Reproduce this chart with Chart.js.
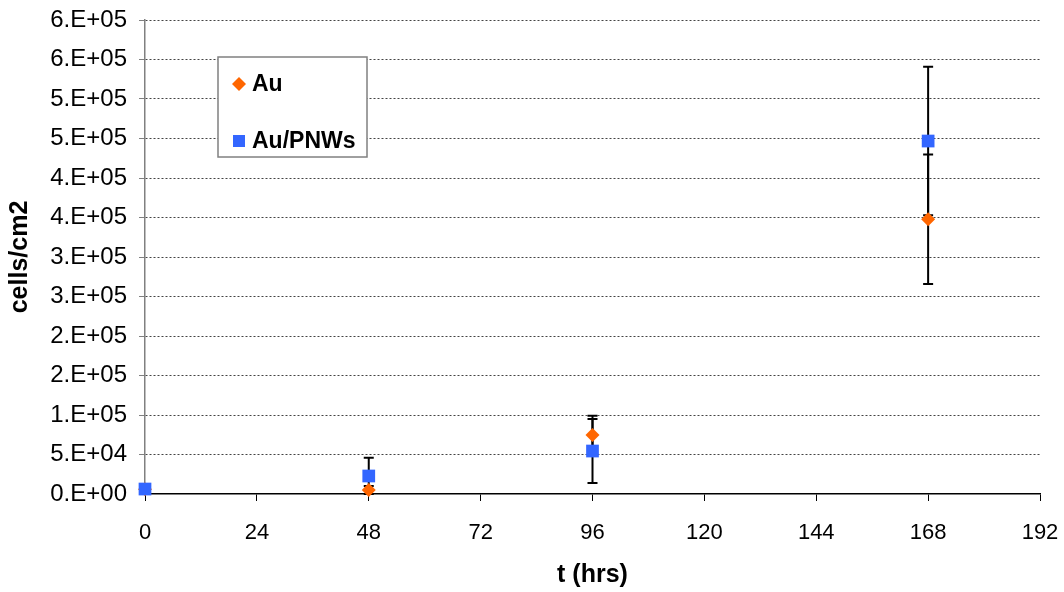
<!DOCTYPE html>
<html>
<head>
<meta charset="utf-8">
<script src="https://cdn.jsdelivr.net/npm/chart.js@4"></script>
<style>
  html, body { margin: 0; padding: 0; background: #fff; }
  #wrap { width: 1064px; height: 592px; position: relative; }
</style>
</head>
<body>
<div id="wrap"><canvas id="chart" width="1064" height="592"></canvas></div>
<script>
// data
var hours = [0, 48, 96, 168]
var auValues = [6000, 5000, 74700, 347700]
var auErrors = [0, 5000, 24400, 82000]
var pnwValues = [6300, 22800, 54400, 446800]
var pnwErrors = [0, 23000, 40500, 94000]
var yTickLabels = ['0.E+00','5.E+04','1.E+05','2.E+05','2.E+05','3.E+05','3.E+05','4.E+05','4.E+05','5.E+05','5.E+05','6.E+05','6.E+05']

var FONT = "'Liberation Sans', Arial, sans-serif"

function toPoints(xs, ys, errs) {
    return xs.map((x, i) => ({x: x, y: ys[i], err: errs[i]}))
}

// error bars drawn behind the markers
const errorBars = {
    id: 'errorBars',
    beforeDatasetsDraw(chart) {
        const ctx = chart.ctx
        const xs = chart.scales.x, ys = chart.scales.y
        ctx.save()
        ctx.strokeStyle = '#000'
        ctx.lineWidth = 2
        chart.data.datasets.forEach(ds => {
            ds.data.forEach(p => {
                if (!p.err) return
                const px = xs.getPixelForValue(p.x)
                const top = ys.getPixelForValue(p.y + p.err)
                const bot = ys.getPixelForValue(Math.max(p.y - p.err, 0))
                ctx.beginPath()
                ctx.moveTo(px, top); ctx.lineTo(px, bot)
                ctx.moveTo(px - 5, top); ctx.lineTo(px + 5, top)
                if (p.y - p.err >= 0) { ctx.moveTo(px - 5, bot); ctx.lineTo(px + 5, bot) }
                ctx.stroke()
            })
        })
        ctx.restore()
    }
}

// boxed legend inside the plot
const boxLegend = {
    id: 'boxLegend',
    afterDraw(chart) {
        const ctx = chart.ctx
        const x0 = 218, y0 = 57, w = 149, h = 100
        ctx.save()
        ctx.fillStyle = '#fff'
        ctx.fillRect(x0, y0, w, h)
        ctx.strokeStyle = '#808080'
        ctx.lineWidth = 1.5
        ctx.strokeRect(x0, y0, w, h)
        ctx.font = 'bold 23px ' + FONT
        ctx.textBaseline = 'middle'
        const rows = [y0 + 27, y0 + 84]
        chart.data.datasets.forEach((ds, i) => {
            const cy = rows[i], cx = x0 + 21
            ctx.fillStyle = ds.backgroundColor
            ctx.beginPath()
            if (ds.pointStyle === 'rectRot') {
                ctx.moveTo(cx - 7, cy); ctx.lineTo(cx, cy - 7); ctx.lineTo(cx + 7, cy); ctx.lineTo(cx, cy + 7)
            } else {
                ctx.rect(cx - 6, cy - 6, 12, 12)
            }
            ctx.closePath()
            ctx.fill()
            ctx.fillStyle = '#000'
            ctx.fillText(ds.label, x0 + 34, cy + 1)
        })
        ctx.restore()
    }
}

const config = {
    type: 'scatter',
    data: {
        datasets: [{
            label: 'Au',
            data: toPoints(hours, auValues, auErrors),
            pointStyle: 'rectRot',
            pointRadius: 7,
            pointHoverRadius: 7,
            backgroundColor: '#FF6600',
            borderColor: '#FF6600',
            borderWidth: 0,
            clip: false,
            order: 1
        }, {
            label: 'Au/PNWs',
            data: toPoints(hours, pnwValues, pnwErrors),
            pointStyle: 'rect',
            pointRadius: 9,
            pointHoverRadius: 9,
            backgroundColor: '#3366FF',
            borderColor: '#3366FF',
            borderWidth: 0,
            clip: false,
            order: 0
        }]
    },
    options: {
        responsive: false,
        animation: false,
        layout: { padding: { left: 0, right: 24, top: 20, bottom: 0 } },
        plugins: {
            legend: { display: false },
            tooltip: { enabled: false }
        },
        scales: {
            x: {
                type: 'linear',
                min: 0, max: 192,
                afterFit: s => { s.height = 98; s.paddingLeft = 0; s.paddingRight = 0 },
                ticks: {
                    stepSize: 24,
                    color: '#000',
                    padding: 19,
                    font: { family: FONT, size: 22 }
                },
                grid: {
                    drawOnChartArea: false,
                    drawTicks: true,
                    tickLength: 7,
                    tickColor: '#000',
                    tickWidth: 1
                },
                border: { color: '#000', width: 1.5 },
                title: {
                    display: true,
                    text: 't (hrs)',
                    color: '#000',
                    padding: { top: 0, bottom: 2 },
                    font: { family: FONT, size: 25, weight: 'bold' }
                }
            },
            y: {
                min: 0, max: 600000,
                afterFit: s => { s.width = 145; s.paddingTop = 0; s.paddingBottom = 0 },
                ticks: {
                    stepSize: 50000,
                    color: '#000',
                    padding: 12,
                    font: { family: FONT, size: 24 },
                    callback: (v, i) => yTickLabels[i]
                },
                grid: {
                    color: ctx => ctx.tick && ctx.tick.value === 0 ? 'rgba(0,0,0,0)' : '#444',
                    lineWidth: 1,
                    tickLength: 6,
                    tickColor: '#808080',
                    tickWidth: 1
                },
                border: { color: '#808080', width: 1.5, dash: [2, 2] },
                title: {
                    display: true,
                    text: 'cells/cm2',
                    color: '#000',
                    padding: { top: 5, bottom: 0 },
                    font: { family: FONT, size: 25, weight: 'bold' }
                }
            }
        }
    },
    plugins: [errorBars, boxLegend]
};

var chartvar = new Chart(document.getElementById('chart'), config);
</script>
</body>
</html>
